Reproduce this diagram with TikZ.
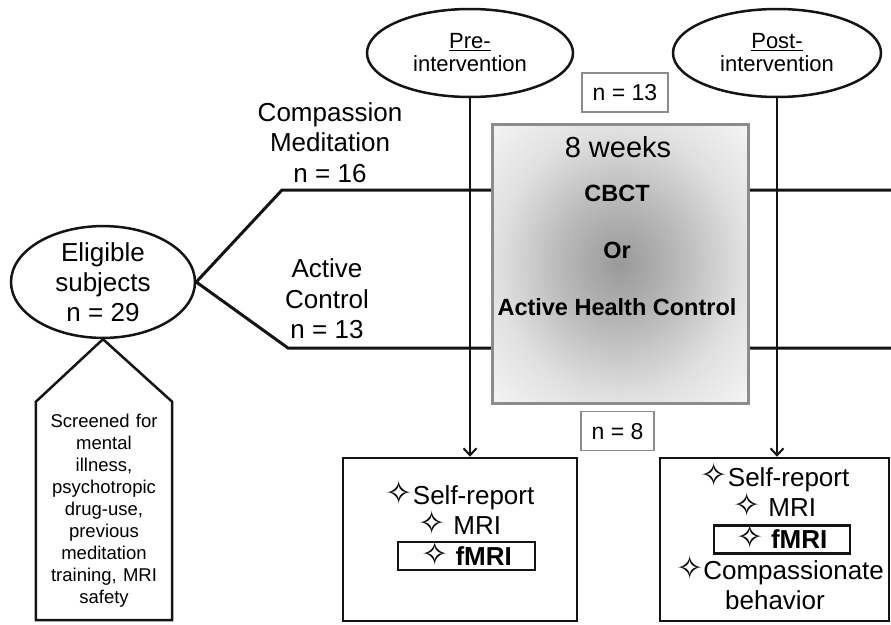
\documentclass[tikz,border=0pt]{standalone}
\usepackage{fontspec}
\setmainfont{Liberation Sans}
\newfontfamily\dejavu{DejaVu Sans}
\usetikzlibrary{shapes.geometric, arrows.meta}

\pgfdeclareradialshading{weekglow}{\pgfpoint{0bp}{0bp}}{color(0bp)=(black!40); color(12bp)=(black!27); color(24bp)=(black!12); color(34bp)=(black!5); color(50bp)=(black!3)}
\newcommand{\spark}{{\dejavu\scalebox{1.25}{\symbol{"2727}}}}

\begin{document}
\begin{tikzpicture}[
    x=1pt, y=-1pt,
    >={Straight Barb[length=7pt,width=13pt]},
]

\definecolor{ink}{RGB}{20,20,20}
\definecolor{rim}{RGB}{140,140,140}

\tikzstyle{oval} = [ellipse, draw=ink, line width=2.5pt, inner sep=0pt, align=center]
\tikzstyle{lbl} = [align=center, font=\fontsize{26}{30.5}\selectfont]
\tikzstyle{item} = [inner sep=0pt, text height=18.5pt, text depth=0pt, font=\fontsize{26}{30}\selectfont]
\tikzstyle{inbold} = [inner sep=0pt, text height=17pt, text depth=0pt, font=\bfseries\fontsize{23.5}{26}\selectfont]
\tikzstyle{nbox} = [rectangle, draw=rim, line width=1.5pt, minimum height=39pt, inner sep=0pt, text height=16.5pt, text depth=0pt, font=\fontsize{23}{26}\selectfont]
\tikzstyle{stage} = [rectangle, draw=ink, line width=2.5pt]
\tikzstyle{pick} = [rectangle, draw=ink, line width=2.5pt, minimum width=136pt, minimum height=28pt, inner sep=0pt, text height=18pt, text depth=0pt, font=\bfseries\fontsize{26}{30}\selectfont]

\useasboundingbox (0,0) rectangle (891,624);

% who took part
\node (eligible) [oval, minimum width=184pt, minimum height=104pt, font=\fontsize{26}{30}\selectfont] at (103,282) {Eligible\\subjects\\n = 29};
\node (screen) [align=center, text width=134pt, minimum width=136pt, minimum height=218pt, inner sep=0pt, font=\fontsize{18.5}{22}\selectfont] at (104,511) {Screened for\\mental\\illness,\\psychotropic\\drug-use,\\previous\\meditation\\training, MRI\\safety};
\draw[line width=2.5pt, draw=ink, line join=miter] (eligible.south) -- (screen.north east) -- (screen.south east) -- (screen.south west) -- (screen.north west) -- cycle;

% the two arms
\coordinate (cmknee) at (282,190);
\coordinate (cmend) at (891,190);
\coordinate (acknee) at (288,348);
\coordinate (acend) at (891,348);
\draw[line width=3pt, draw=ink] (eligible.east) -- (cmknee) -- (cmend);
\draw[line width=3pt, draw=ink] (eligible.east) -- (acknee) -- (acend);

\node (cmlabel) [lbl] at (330,142.5) {Compassion\\Meditation\\n = 16};
\node (aclabel) [lbl] at (327,299) {Active\\Control\\n = 13};

% scan sessions
\node (pre) [oval, minimum width=206pt, minimum height=88pt, font=\fontsize{22}{23}\selectfont] at (470,53) {\underline{Pre-}\\intervention};
\node (post) [oval, minimum width=208pt, minimum height=88pt, font=\fontsize{22}{23}\selectfont] at (777,53) {\underline{Post-}\\intervention};

\node (prebox) [stage, minimum width=234pt, minimum height=163pt] at (460,539.5) {};
\node (postbox) [stage, minimum width=229pt, minimum height=163pt] at (774.5,539.5) {};

\draw[->, line width=2pt, draw=ink] (pre.south) -- (pre.south |- prebox.north);
\draw[->, line width=2pt, draw=ink] (post.south) -- (post.south |- postbox.north);

% training block
\node (weeks) [rectangle, draw=rim, line width=3pt, shading=weekglow, minimum width=256pt, minimum height=279pt] at (620,263.5) {};
\node (wk) [inner sep=0pt, text height=20pt, text depth=0pt, font=\fontsize{29}{30}\selectfont] at (618,147) {8 weeks};
\node (cbct) [inbold] at (617,193) {CBCT};
\node (or) [inbold] at (617,250) {Or};
\node (ahc) [inbold] at (617,307) {Active Health Control};

\node (nthirteen) [nbox, minimum width=86pt] at (625,92.5) {n = 13};
\node (neight) [nbox, minimum width=73pt] at (617.5,431) {n = 8};

% measures
\node (preself) [item] at (460,495) {\spark Self-report};
\node (premri) [item] at (460,525) {\spark{} MRI};
\node (prefmri) [pick, minimum width=137pt] at (466.5,556) {\spark{} fMRI};

\node (postself) [item] at (775,477) {\spark Self-report};
\node (postmri) [item] at (775,507) {\spark{} MRI};
\node (postfmri) [pick] at (782,539.5) {\spark{} fMRI};
\node (postcomp) [item] at (780,570) {\spark Compassionate};
\node (postbeh) [item] at (775,600) {behavior};

\end{tikzpicture}
\end{document}
